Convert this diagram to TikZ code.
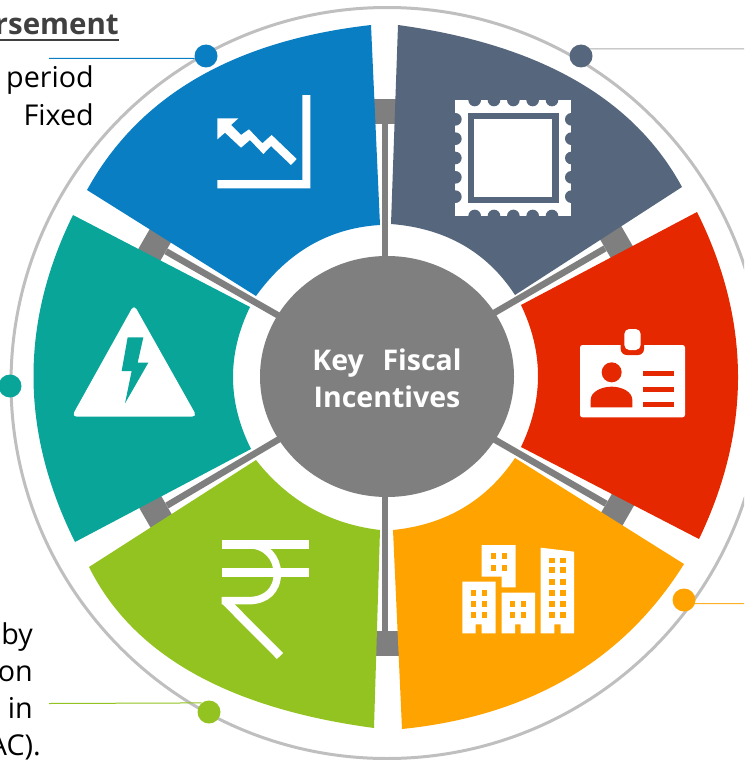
\documentclass[tikz,border=0pt]{standalone}
\usepackage{fontspec}
\setmainfont{Open Sans}
\usetikzlibrary{calc}
\definecolor{cblue}{HTML}{0A7EC2}
\definecolor{cslate}{HTML}{56677D}
\definecolor{cred}{HTML}{E62800}
\definecolor{corange}{HTML}{FFA300}
\definecolor{cgreen}{HTML}{92C320}
\definecolor{cteal}{HTML}{09A599}
\definecolor{cgray}{HTML}{7F7F7F}
\definecolor{cring}{HTML}{BFBFBF}
\definecolor{cdark}{HTML}{404040}
\tikzset{
  spoke/.style={draw=cgray,line width=6.5pt},
  pad/.style={fill=cgray,minimum width=25pt,minimum height=44pt,inner sep=0pt},
  dotnode/.style={circle,inner sep=0pt,minimum size=23pt},
  lead/.style={line width=1pt},
  side/.style={anchor=base east,inner sep=0pt,font=\fontsize{28.7}{30}\selectfont,text=black},
  centertext/.style={text=white,align=center,inner sep=0pt,font=\bfseries\fontsize{28.5}{37}\selectfont},
}
\newcommand{\seg}[7]{\fill[#7] (#1) .. controls ($1.3333*(#2)-0.3333*(#3)$) and ($1.3333*(#2)-0.3333*(#1)$) .. (#3) -- (#4) .. controls ($1.3333*(#5)-0.3333*(#6)$) and ($1.3333*(#5)-0.3333*(#4)$) .. (#6) -- cycle;}
\begin{document}
\begin{tikzpicture}[x=1pt,y=-1pt]
\useasboundingbox (0,0) rectangle (744,760);
\clip (0,0) rectangle (744,760);
% ring
\draw[cring,line width=3pt] (387,383) ellipse [x radius=376,y radius=375.5];
% hub coordinate and pads
\coordinate (hub) at (385,376.5);
\node[pad,rotate=90] (p1) at (385,111) {};
\node[pad,rotate=30] (p2) at (616,242) {};
\node[pad,rotate=-30] (p3) at (617,510) {};
\node[pad,rotate=90] (p4) at (385,643.5) {};
\node[pad,rotate=30] (p5) at (156,512) {};
\node[pad,rotate=-30] (p6) at (155,245) {};
\foreach \p in {p1,p2,p3,p4,p5,p6} \draw[spoke] (hub) -- (\p);
% segments
\seg{371,25}{197,78}{87,190}{256,296}{311,245}{380,225}{cblue}
\seg{398,25}{575,80}{682,187}{515,295}{463,245}{391,224}{cslate}
\seg{697,212}{738,375}{699,539}{521,447}{538,376}{521,305}{cred}
\seg{684,564}{568,678}{402,729}{393,530}{463,508}{515,458}{corange}
\seg{89,567}{193,673}{374,728}{380,530}{311,508}{256,460}{cgreen}
\seg{75,542}{33.5,378}{73,215}{250,307}{233,378}{251,449}{cteal}
% centre
\fill[cgray] (387,376.5) ellipse [x radius=127,y radius=120.5];
\node[centertext] (title) at (387,378) {Key~ \hspace{4pt}Fiscal\\Incentives};
% chart icon
\begin{scope}[shift={(205,85)},scale=1/3]
\fill[white] (37,100)--(100,100)--(78,120)--(108,150)--(132,133)--(172,175)--(200,150)--(275,222)--(258,240)--(198,183)--(175,207)--(135,165)--(108,188)--(60,143)--(37,163)--cycle;
\fill[white] (292,30)--(316,30)--(316,310)--(37,310)--(37,285)--(292,285)--cycle;
\end{scope}
% stamp icon
\begin{scope}[shift={(372,0)},scale=1/3]
\fill[white] (250,300) rectangle (598,648);
\foreach \t in {308,366,424,482,540}{
  \fill[cslate] (\t,300) circle [radius=19];
  \fill[cslate] (\t,648) circle [radius=19];
}
\foreach \t in {358,416,474,532,590}{
  \fill[cslate] (250,\t) circle [radius=19];
  \fill[cslate] (598,\t) circle [radius=19];
}
\fill[cslate] (288,338) rectangle (560,610);
\fill[white] (307,357) rectangle (541,591);
\end{scope}
% badge icon
\begin{scope}[shift={(570,320)},scale=1/3]
\fill[white,rounded corners=2.5pt] (30,75) rectangle (345,292);
\fill[cred,rounded corners=6pt] (152,15) rectangle (222,105);
\fill[white,rounded corners=5pt] (163,27) rectangle (212,90);
\fill[cred] (125,157) circle [radius=30];
\fill[cred] (62,262)--(62,240) .. controls (62,215) and (95,200) .. (125,200) .. controls (155,200) and (187,215) .. (187,240) -- (187,262) -- cycle;
\fill[cred] (220,152) rectangle (312,168);
\fill[cred] (220,200) rectangle (312,215);
\fill[cred] (220,246) rectangle (312,262);
\end{scope}
% buildings icon
\begin{scope}[shift={(455,535)},scale=1/3]
\fill[white] (80,30)--(182,30)--(182,157)--(140,157)--(140,125)--(80,125)--cycle;
\fill[white] (22,140)--(122,140)--(122,295)--(80,295)--(80,268)--(62,268)--(62,295)--(22,295)--cycle;
\fill[white] (140,173)--(240,173)--(240,295)--(197,295)--(197,268)--(180,268)--(180,295)--(140,295)--cycle;
\fill[white] (257,38)--(357,50)--(357,295)--(317,295)--(317,268)--(298,268)--(298,295)--(257,295)--cycle;
\foreach \a/\b in {107/55,140/55,107/90,140/90,47/165,80/165,47/198,80/198,47/232,80/232,164/198,197/198,164/232,197/232,
  282/68,315/68,282/97,315/97,282/132,315/132,282/165,315/165,282/198,315/198,282/232,315/232}
  \fill[corange] (\a,\b) rectangle ++(17,17);
\end{scope}
% rupee icon
\begin{scope}[shift={(0,460)},scale=1/3]
\fill[white] (665,240) rectangle (928,268);
\fill[white] (665,325) rectangle (928,352);
\draw[white,line width=7.5pt] (745,254) .. controls (800,254) and (832,295) .. (832,340) .. controls (832,390) and (800,422) .. (745,422) -- (665,422);
\draw[white,line width=8.5pt] (677,424) -- (840,588);
\end{scope}
% warning icon
\begin{scope}[shift={(60,300)},scale=1/3]
\fill[white,rounded corners=5pt] (222,14)--(411,350)--(35,350)--cycle;
\fill[cteal] (203,112)--(250,112)--(233,188)--(265,188)--(195,310)--(215,213)--(185,213)--cycle;
\end{scope}
% callout dots and leads
\coordinate (e1) at (49,58.5);
\coordinate (e2) at (744,49);
\coordinate (e3) at (744,603.5);
\coordinate (e4) at (49,703.5);
\node[dotnode,fill=cblue] (d1) at (206,56) {};
\node[dotnode,fill=cslate] (d2) at (581,56) {};
\node[dotnode,fill=corange] (d3) at (684,600) {};
\node[dotnode,fill=cgreen] (d4) at (209,712) {};
\node[dotnode,fill=cteal] (d5) at (10,386) {};
\draw[lead,cblue] (d1.192) -- (e1);
\draw[lead,cring!70!gray] (d2.38) -- (e2);
\draw[lead,corange!85!white] (d3.-18) -- (e3);
\draw[lead,cgreen] (d4.129) -- (e4);
% side texts
\node[side,text=cdark,font=\bfseries\fontsize{29.5}{30}\selectfont] (t1) at (119,35) {rsement};
\coordinate (u1) at (0,40); \coordinate (u2) at (119,40);
\draw[cdark,line width=2.5pt] (u1) -- (u2);
\node[side] (t2) at (94,88) {period};
\node[side] (t3) at (94,125) {Fixed};
\node[side] (t4) at (33,644) {by};
\node[side] (t5) at (33,681) {on};
\node[side] (t6) at (33,718) {in};
\node[side] (t7) at (41,755) {AC).};
\end{tikzpicture}
\end{document}
